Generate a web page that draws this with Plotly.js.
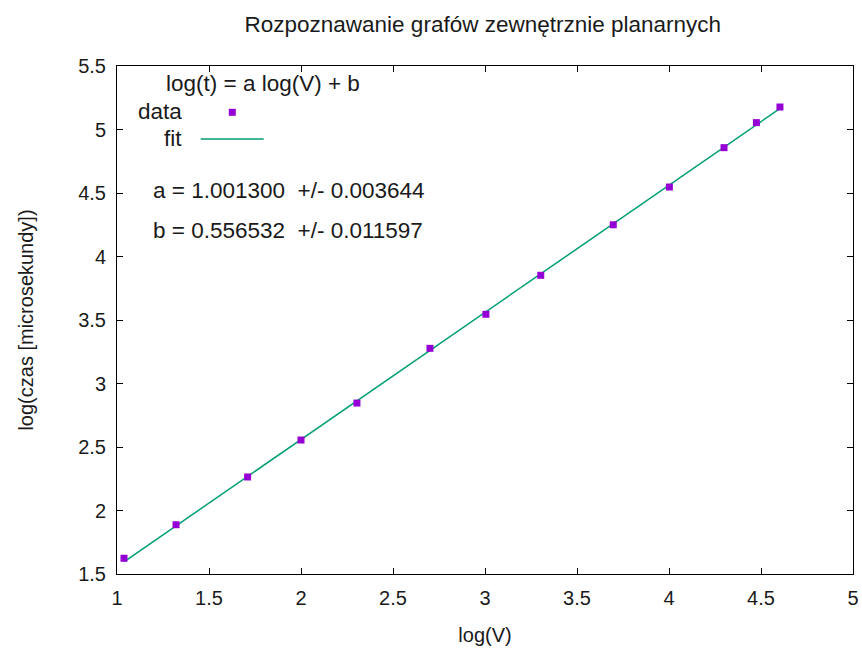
<!DOCTYPE html>
<html>
<head>
<meta charset="utf-8">
<script src="https://cdn.plot.ly/plotly-3.0.1.min.js"></script>
<style>html,body{margin:0;padding:0;background:#fff;}#chart{width:862px;height:653px;}</style>
</head>
<body>
<div id="chart"></div>
<script>
// data
var logV = [1.038, 1.321, 1.710, 2.000, 2.304, 2.701, 3.005, 3.303, 3.697, 4.002, 4.299, 4.475, 4.603];
var logT = [1.624, 1.888, 2.264, 2.555, 2.846, 3.277, 3.545, 3.852, 4.250, 4.547, 4.857, 5.054, 5.177];
var fitX = [1.04, 4.61];
var fitY = [1.598, 5.172];
var xTicks = [1, 1.5, 2, 2.5, 3, 3.5, 4, 4.5, 5];
var yTicks = [1.5, 2, 2.5, 3, 3.5, 4, 4.5, 5, 5.5];
var titleText = 'Rozpoznawanie grafów zewnętrznie planarnych';
var keyTitle = 'log(t) = a log(V) + b';
var paramA = 'a = 1.001300  +/- 0.003644';
var paramB = 'b = 0.556532  +/- 0.011597';

var FONT = 'Liberation Sans, Arial, sans-serif';
var TXT = '#1a1a1a';
var FS = 20;
var KS = 22.5;

var traces = [
  {x: fitX, y: fitY, mode: 'lines', name: 'fit',
   line: {color: '#009e73', width: 1.5}, hoverinfo: 'skip'},
  {x: logV, y: logT, mode: 'markers', name: 'data',
   marker: {symbol: 'square', size: 7, color: '#9400d3'}}
];

var axisCommon = {
  showgrid: false, zeroline: false, showline: true, linecolor: '#000', linewidth: 1,
  ticks: 'inside', ticklen: 6, tickcolor: '#000', mirror: 'allticks',
  tickfont: {family: FONT, size: FS, color: TXT}
};

var layout = {
  width: 862, height: 653,
  margin: {l: 117, r: 9, t: 66, b: 79},
  paper_bgcolor: '#fff', plot_bgcolor: '#fff',
  showlegend: false,
  font: {family: FONT, color: TXT},
  title: {text: titleText, font: {family: FONT, size: 22.5, color: TXT},
          xref: 'paper', x: 0.497, xanchor: 'center', yref: 'container', y: 1 - 24/653, yanchor: 'middle'},
  xaxis: Object.assign({}, axisCommon, {
    range: [1, 5], tickvals: xTicks, ticktext: xTicks.map(String), ticklabelstandoff: 6,
    title: {text: 'log(V)', font: {family: FONT, size: FS, color: TXT}, standoff: 19}
  }),
  yaxis: Object.assign({}, axisCommon, {
    range: [1.5, 5.5], tickvals: yTicks, ticktext: yTicks.map(String), ticklabelstandoff: 6,
    title: {text: 'log(czas [microsekundy])', font: {family: FONT, size: FS, color: TXT}, standoff: 39}
  }),
  annotations: [
    {text: keyTitle, xref: 'paper', yref: 'paper', x: (164-117)/736, y: (574-83.5)/508, xanchor: 'left', yanchor: 'middle', showarrow: false, font: {family: FONT, size: KS, color: TXT}},
    {text: 'data', xref: 'paper', yref: 'paper', x: (184-117)/736, y: (574-111.5)/508, xanchor: 'right', yanchor: 'middle', showarrow: false, font: {family: FONT, size: KS, color: TXT}},
    {text: 'fit', xref: 'paper', yref: 'paper', x: (184-117)/736, y: (574-138)/508, xanchor: 'right', yanchor: 'middle', showarrow: false, font: {family: FONT, size: KS, color: TXT}},
    {text: paramA, xref: 'paper', yref: 'paper', x: (151-117)/736, y: (574-190.5)/508, xanchor: 'left', yanchor: 'middle', showarrow: false, font: {family: FONT, size: KS, color: TXT}},
    {text: paramB, xref: 'paper', yref: 'paper', x: (151-117)/736, y: (574-230)/508, xanchor: 'left', yanchor: 'middle', showarrow: false, font: {family: FONT, size: KS, color: TXT}}
  ],
  shapes: [
    {type: 'line', xref: 'paper', yref: 'paper', x0: (200.7-117)/736, x1: (263.7-117)/736, y0: (574-139)/508, y1: (574-139)/508, line: {color: '#009e73', width: 1.5}},
    {type: 'rect', xref: 'paper', yref: 'paper', xsizemode: 'pixel', ysizemode: 'pixel',
     xanchor: (232.3-117)/736, yanchor: (574-112.3)/508, x0: -3.5, x1: 3.5, y0: -3.5, y1: 3.5,
     fillcolor: '#9400d3', line: {width: 0}}
  ]
};

Plotly.newPlot('chart', traces, layout, {displayModeBar: false, staticPlot: true});
</script>
</body>
</html>
